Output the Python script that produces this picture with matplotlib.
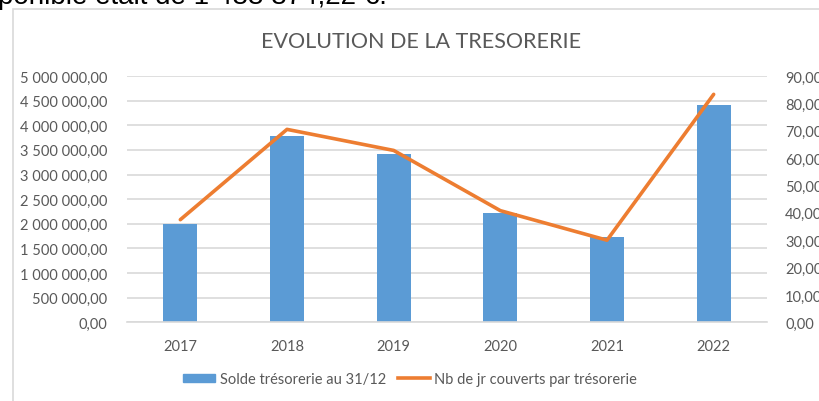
import matplotlib.pyplot as plt
from matplotlib.ticker import FuncFormatter, MultipleLocator
from matplotlib.patches import Rectangle
from matplotlib.lines import Line2D

# Données
annees = ['2017', '2018', '2019', '2020', '2021', '2022']
solde = [1990000, 3790000, 3420000, 2210000, 1740000, 4420000]
nb_jours = [37.5, 70.5, 62.8, 40.8, 30.0, 83.3]

bleu = '#5B9BD5'
orange = '#ED7D31'
gris_txt = '#595959'
gris_grille = '#D9D9D9'

plt.rcParams['font.family'] = ['Lato', 'DejaVu Sans']


def fmt_fr(v, pos=None):
    s = f"{v:,.2f}"
    return s.replace(',', ' ').replace('.', ',')


fig = plt.figure(figsize=(8.19, 4.02), dpi=100)

# cadre du graphique (bord gris)
fig.patches.append(Rectangle((13 / 819, -0.1), 1.0, 1 - 10 / 402 + 0.1,
                             transform=fig.transFigure, fill=False,
                             edgecolor=gris_grille, linewidth=1.2))

# texte coupé en haut de l'image
fig.text(-0.002, 1 - 4 / 402, "ponible était de 1 488 874,22 €.",
         fontsize=20, family='Liberation Sans', va='baseline', ha='left',
         color='black')

ax = fig.add_axes([127 / 819, 1 - 323.3 / 402, 640 / 819, 246.3 / 402])
x = range(len(annees))
ax.bar(x, solde, width=0.32, color=bleu, zorder=2)
ax.set_xlim(-0.5, 5.5)
ax.set_ylim(0, 5000000)
ax.yaxis.set_major_locator(MultipleLocator(500000))
ax.yaxis.set_major_formatter(FuncFormatter(fmt_fr))
ax.set_xticks(list(x))
ax.set_xticklabels(annees)
ax.grid(axis='y', color=gris_grille, linewidth=1.2, zorder=0)
ax.set_axisbelow(True)
for s in ['top', 'right', 'left']:
    ax.spines[s].set_visible(False)
ax.spines['bottom'].set_color(gris_grille)
ax.spines['bottom'].set_linewidth(1.2)
ax.tick_params(axis='both', length=0, colors=gris_txt, labelsize=10.5)
ax.tick_params(axis='x', pad=12)
ax.tick_params(axis='y', pad=14)

ax2 = ax.twinx()
ax2.plot(list(x), nb_jours, color=orange, linewidth=2.6,
         solid_capstyle='round', zorder=3)
ax2.set_ylim(0, 90)
ax2.yaxis.set_major_locator(MultipleLocator(10))
ax2.yaxis.set_major_formatter(FuncFormatter(fmt_fr))
for s in ['top', 'right', 'left', 'bottom']:
    ax2.spines[s].set_visible(False)
ax2.tick_params(axis='y', length=0, colors=gris_txt, labelsize=10.5, pad=13)

fig.text(421 / 819, 1 - 42 / 402, "EVOLUTION DE LA TRESORERIE", ha='center',
         va='center', fontsize=15.5, color=gris_txt)

handles = [Rectangle((0, 0), 1, 1, color=bleu),
           Line2D([0], [0], color=orange, linewidth=2.6)]
fig.legend(handles, ['Solde trésorerie au 31/12',
                     'Nb de jr couverts par trésorerie'],
           loc='center', bbox_to_anchor=(410 / 819, 1 - 380 / 402), ncol=2,
           frameon=False, fontsize=10.5, labelcolor=gris_txt,
           handlelength=2.2, handleheight=0.45, handletextpad=0.3,
           columnspacing=0.8)

fig.savefig('out.png', dpi=100)
